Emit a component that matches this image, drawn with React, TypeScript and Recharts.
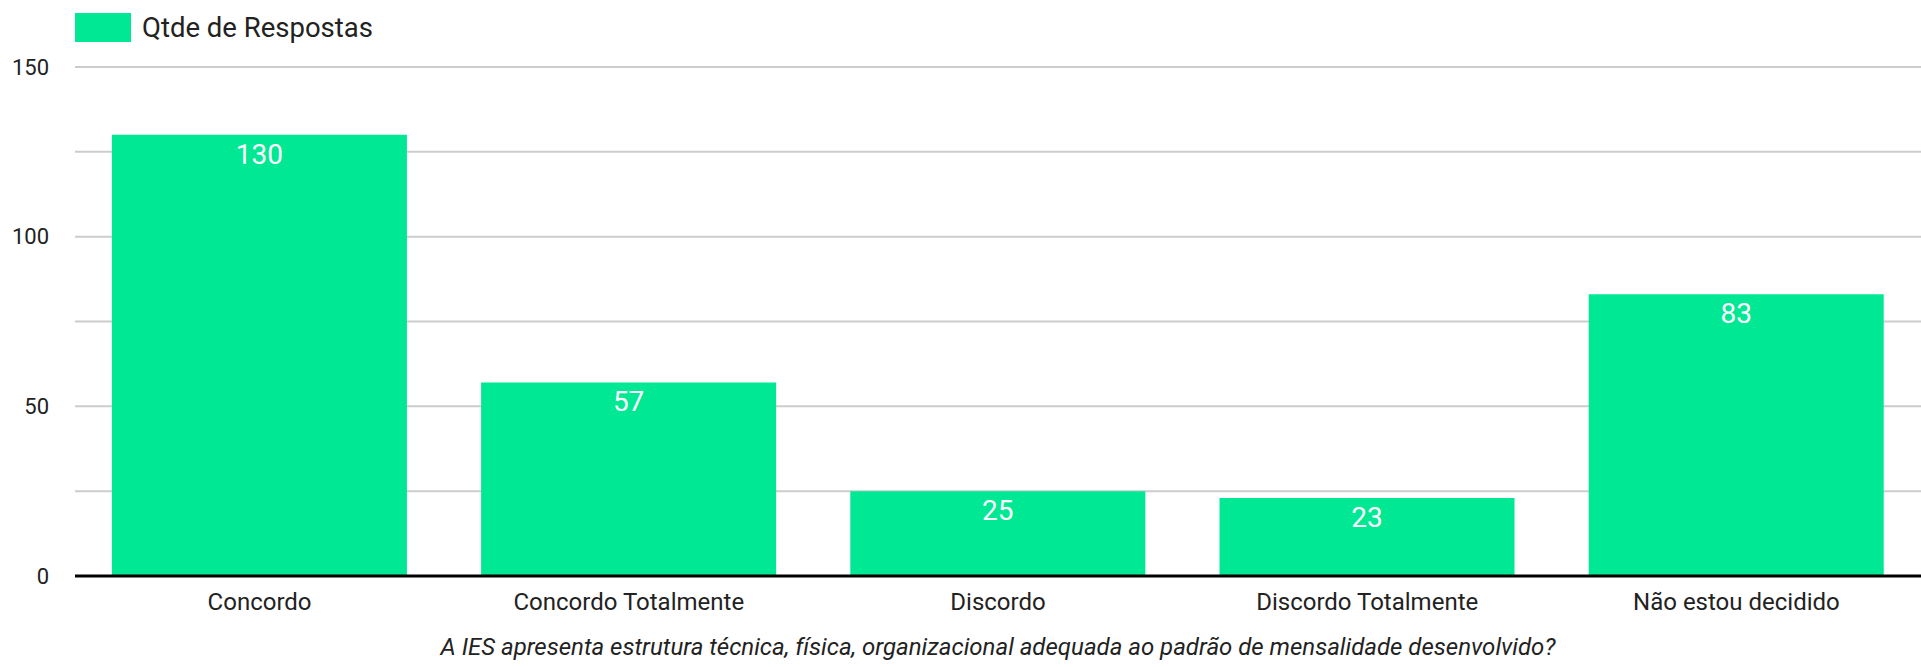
import React from 'react';
import {
  BarChart,
  Bar,
  XAxis,
  YAxis,
  CartesianGrid,
  LabelList,
  Label,
} from 'recharts';

// Responses per answer option
const categories = [
  'Concordo',
  'Concordo Totalmente',
  'Discordo',
  'Discordo Totalmente',
  'Não estou decidido',
];
const respostas = [130, 57, 25, 23, 83];
const yTicks = [0, 50, 100, 150];
const gridValues = [0, 25, 50, 75, 100, 125, 150];

const seriesName = 'Qtde de Respostas';
const question =
  'A IES apresenta estrutura técnica, física, organizacional adequada ao padrão de mensalidade desenvolvido?';

const data = categories.map((name, i) => ({ name, value: respostas[i] }));

const BAR_COLOR = '#00e893';
const FONT = 'Roboto, "Noto Sans", sans-serif';

export default function App() {
  return (
    <div style={{ position: 'relative', width: 1921, height: 667, fontFamily: FONT }}>
      <style>{`body { margin: 0; }`}</style>

      {/* legend */}
      <div
        style={{
          position: 'absolute',
          left: 75,
          top: 11,
          display: 'flex',
          alignItems: 'center',
          fontSize: 27.5,
          color: '#222',
        }}
      >
        <span style={{ display: 'inline-block', width: 56, height: 29, background: BAR_COLOR, marginRight: 11 }} />
        <span>{seriesName}</span>
      </div>

      <BarChart
        width={1921}
        height={667}
        data={data}
        margin={{ top: 67, right: 0, left: 0, bottom: 0 }}
        barCategoryGap="10%"
      >
        <CartesianGrid
          vertical={false}
          horizontalValues={gridValues}
          stroke="#cccccc"
          strokeWidth={2}
        />
        <XAxis
          dataKey="name"
          height={91}
          tickLine={false}
          axisLine={{ stroke: '#000', strokeWidth: 3 }}
          tick={{ fontSize: 24, fill: '#222', fontFamily: FONT }}
          tickMargin={11}
          interval={0}
        >
          <Label
            value={question}
            position="insideBottom"
            offset={12}
            style={{ fontSize: 24, fontStyle: 'italic', fill: '#222', fontFamily: FONT }}
          />
        </XAxis>
        <YAxis
          width={75}
          domain={[0, 150]}
          ticks={yTicks}
          tickLine={false}
          axisLine={false}
          tick={{ fontSize: 22, fill: '#222', fontFamily: FONT }}
          tickMargin={20}
        />
        <Bar dataKey="value" fill={BAR_COLOR} isAnimationActive={false}>
          <LabelList
            dataKey="value"
            position="insideTop"
            offset={9}
            style={{ fill: '#fff', fontSize: 28, fontFamily: FONT }}
          />
        </Bar>
      </BarChart>
    </div>
  );
}
